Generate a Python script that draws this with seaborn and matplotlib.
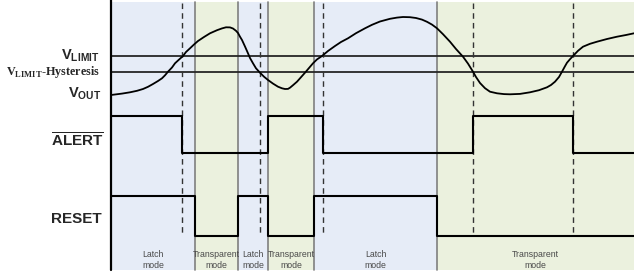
import matplotlib
matplotlib.use("Agg")
import matplotlib.pyplot as plt
import pandas as pd
import seaborn as sns

# operating modes, and where each one starts/ends along the time axis
modes = ["Latch", "Transparent", "Latch", "Transparent", "Latch", "Transparent"]
mode_edges = [111, 195, 238, 268, 314, 437, 634]

# moments where V_OUT trips a threshold (dashed markers)
trip_times = [182, 260, 323, 473, 573]

# threshold levels
v_limit = 56
v_hyst = 72

# V_OUT waveform
vout_t = [111, 122, 130, 137, 143, 148, 153, 158, 162, 165, 168, 172, 175, 179,
          183, 186, 190, 194, 198, 204, 210, 217, 222, 226, 230, 233, 236,
          238, 240, 242, 245, 248, 250, 253, 256, 260, 264, 268, 273, 278,
          282, 285, 288, 290, 293, 297, 301, 305, 309, 313, 317, 322, 328,
          335, 341, 348, 356, 365, 372, 380, 390, 397, 403, 410, 416, 422,
          427, 432, 437, 443, 450, 456, 463, 468, 473, 476, 480, 485, 490,
          497, 504, 510, 520, 530, 539, 547, 551, 555, 559, 562, 565, 567,
          570, 573, 578, 583, 590, 597, 607, 617, 626, 634]
vout_v = [95, 93.6, 92.3, 90.8, 89, 86.8, 84, 81, 78.3, 75.3, 71.7, 67.5, 63.3, 59.6,
          56, 52, 48.3, 44.5, 41, 37, 33.3, 30.2, 28.4, 27.3, 27.4, 28.5, 30.8,
          33, 36.7, 40, 46.5, 53.3, 58, 63.3, 68.3, 72.7, 76.7, 80, 83.6, 86.7,
          88.3, 89, 88.9, 87.7, 85.2, 81.7, 77.2, 72.7, 68, 63.3, 59.4, 56, 51,
          46, 42, 38.3, 33.2, 28.3, 24.8, 21.5, 18.8, 17.6, 17, 17.2, 18, 19.6,
          21.8, 24.6, 28.3, 34.2, 41.7, 49, 56.7, 63.6, 71.7, 77, 83, 88.2, 91.7,
          93.3, 94.1, 94.3, 93.9, 92.3, 90.2, 87.3, 85, 81.7, 77, 71.7, 66.2, 62.7,
          59.2, 56, 50.8, 46.7, 43.8, 41.7, 39, 36.7, 35, 33.3]

# digital signals (1 = high, 0 = low)
alert_edges = [111, 182, 268, 323, 473, 573, 634]
alert_levels = [1, 0, 1, 0, 1, 0]
reset_edges = mode_edges
reset_levels = [1, 0, 1, 0, 1, 0]

ALERT_HI, ALERT_LO = 116, 153
RESET_HI, RESET_LO = 196, 236

BLUE = "#E6ECF7"
GREEN = "#EBF1DE"

sns.set_style("white")
plt.rcParams["font.family"] = ["Liberation Sans", "DejaVu Sans"]
plt.rcParams["mathtext.fontset"] = "custom"
plt.rcParams["mathtext.bf"] = "Liberation Sans:bold"
plt.rcParams["mathtext.rm"] = "Liberation Serif:bold"

fig = plt.figure(figsize=(6.34, 2.73), dpi=100)
ax = fig.add_axes([0, 0, 1, 1])

# shaded mode regions
for i, m in enumerate(modes):
    x0, x1 = mode_edges[i], mode_edges[i + 1]
    ax.fill_between([x0, x1], 2, 270, color=BLUE if m == "Latch" else GREEN, lw=0, zorder=0)
    if i > 0:
        ax.plot([x0, x0], [2, 270], color="#7f7f7f", lw=1.2, zorder=1)
    ax.text((x0 + x1) / 2, 260, "%s\nmode" % m, ha="center", va="center",
            fontsize=6.3, color="#4a4a4a", linespacing=1.2)

# left axis
ax.plot([111, 111], [0, 270], color="black", lw=1.6, zorder=3)

# thresholds
for lvl in [v_limit, v_hyst]:
    ax.plot([111, 634], [lvl, lvl], color="#262626", lw=1.3, zorder=2)

# dashed trip markers
for t in trip_times:
    ax.plot([t, t], [3, 236], color="#333333", lw=1, ls=(0, (4, 3)), zorder=2)

# V_OUT
df_v = pd.DataFrame({"t": vout_t, "v": vout_v})
sns.lineplot(data=df_v, x="t", y="v", ax=ax, color="black", lw=1.3,
             sort=False, estimator=None, zorder=4)


def step_frame(edges, levels, hi, lo):
    ys = [hi if l else lo for l in levels]
    return pd.DataFrame({"t": edges, "y": ys + [ys[-1]]})


df_a = step_frame(alert_edges, alert_levels, ALERT_HI, ALERT_LO)
sns.lineplot(data=df_a, x="t", y="y", ax=ax, color="black", lw=1.5,
             drawstyle="steps-post", estimator=None, zorder=4)
df_r = step_frame(reset_edges, reset_levels, RESET_HI, RESET_LO)
sns.lineplot(data=df_r, x="t", y="y", ax=ax, color="black", lw=1.5,
             drawstyle="steps-post", estimator=None, zorder=4)

ax.set_xlim(0, 634)
ax.set_ylim(273, 0)
ax.axis("off")

# signal labels
ax.text(100, 56, r"$\mathbf{V}_{\mathbf{LIMIT}}$", ha="right", va="center", fontsize=10.5)
ax.text(100, 72, r"$\mathrm{V}_{\mathrm{LIMIT}}\text{-Hysteresis}$", ha="right", va="center", fontsize=8.7)
ax.text(101, 94, r"$\mathbf{V}_{\mathbf{OUT}}$", ha="right", va="center", fontsize=10.5)
ax.text(104, 141, r"$\overline{\mathbf{ALERT}}$", ha="right", va="center", fontsize=11)
ax.text(102, 219, "RESET", ha="right", va="center", fontsize=11, fontweight="bold")

fig.savefig("out.png", dpi=100)
